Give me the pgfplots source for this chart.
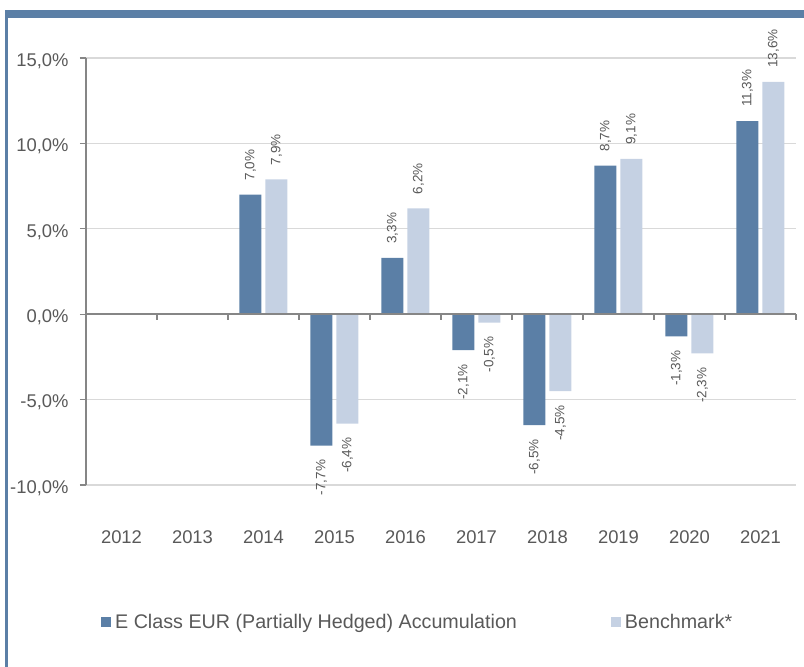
\documentclass[border=0pt]{standalone}
\usepackage{pgfplots}
\pgfplotsset{compat=1.18}
\usepackage{fontspec}
\setmainfont{Liberation Sans}
\definecolor{fundblue}{HTML}{5B7FA6}
\definecolor{benchblue}{HTML}{C5D1E3}
\definecolor{framebl}{HTML}{5B7FA6}
\definecolor{axisgray}{HTML}{868686}
\definecolor{gridgray}{HTML}{D9D9D9}
\definecolor{txtgray}{HTML}{595959}
\begin{document}
\begin{tikzpicture}
\path[use as bounding box] (0,0) rectangle (804pt,667pt);
\fill[framebl] (5pt,649pt) rectangle (804pt,657pt);
\fill[framebl] (5pt,0pt) rectangle (7.5pt,649pt);
\begin{axis}[
  at={(86pt,182pt)}, anchor=south west,
  scale only axis, width=710pt, height=427pt,
  ymin=-10, ymax=15, xmin=-0.5, xmax=9.5,
  ytick={-10,-5,0,5,10,15},
  xtick={0,1,2,3,4,5,6,7,8,9},
  xticklabels={2012,2013,2014,2015,2016,2017,2018,2019,2020,2021},
  axis lines*=left,
  x axis line style={draw=gridgray, line width=1.2pt},
  y axis line style={draw=axisgray, line width=1.2pt},
  xtick style={draw=none},
  ytick style={draw=axisgray, line width=1.2pt},
  tick align=outside, major tick length=6pt,
  ymajorgrids, grid style={draw=gridgray, line width=1.2pt},
  /pgf/number format/assume math mode=true,
  yticklabel={\pgfmathprintnumber[fixed,fixed zerofill,precision=1,use comma]{\tick}\%},
  ticklabel style={font=\fontsize{18.4}{20}\selectfont, text=txtgray},
  yticklabel style={anchor=east, xshift=-8pt, yshift=-3pt},
  xticklabel style={anchor=base, yshift=-53pt},
  ybar=4pt, bar width=22pt,
  visualization depends on={rawy \as \rawy},
  nodes near coords={\pgfmathprintnumber[fixed,fixed zerofill,precision=1,use comma,assume math mode=true]{\pgfplotspointmeta}\%},
  every node near coord/.append style={rotate=90, anchor={\ifdim\rawy pt<0pt east\else west\fi}, font=\fontsize{13.5}{15}\selectfont, text=txtgray, inner xsep=14pt, inner ysep=0pt},
  legend columns=2,
  legend style={at={(axis description cs:0.0211,-0.3208)}, anchor=west, draw=none, fill=none,
     font=\fontsize{19.7}{22}\selectfont, text=txtgray, inner sep=0pt,
     nodes={inner xsep=4pt},
     /tikz/every even column/.append style={column sep=90pt}},
  clip=false,
]
\addplot[fill=fundblue, draw=none, legend image code/.code={\fill[fundblue] (0pt,-5pt) rectangle (10pt,5pt);}]
  coordinates {(2,7.0) (3,-7.7) (4,3.3) (5,-2.1) (6,-6.5) (7,8.7) (8,-1.3) (9,11.3)};
\addlegendentry{E Class EUR (Partially Hedged) Accumulation}
\addplot[fill=benchblue, draw=none, legend image code/.code={\fill[benchblue] (0pt,-5pt) rectangle (10pt,5pt);}]
  coordinates {(2,7.9) (3,-6.4) (4,6.2) (5,-0.5) (6,-4.5) (7,9.1) (8,-2.3) (9,13.6)};
\addlegendentry{Benchmark*}
\draw[axisgray, line width=1.5pt] (axis cs:-0.5,0) -- (axis cs:9.5,0);
\pgfplotsinvokeforeach{-0.5,0.5,...,9.5}{\draw[axisgray, line width=1.2pt] (axis cs:#1,0) -- ++(0pt,-6pt);}
\end{axis}
\end{tikzpicture}
\end{document}
